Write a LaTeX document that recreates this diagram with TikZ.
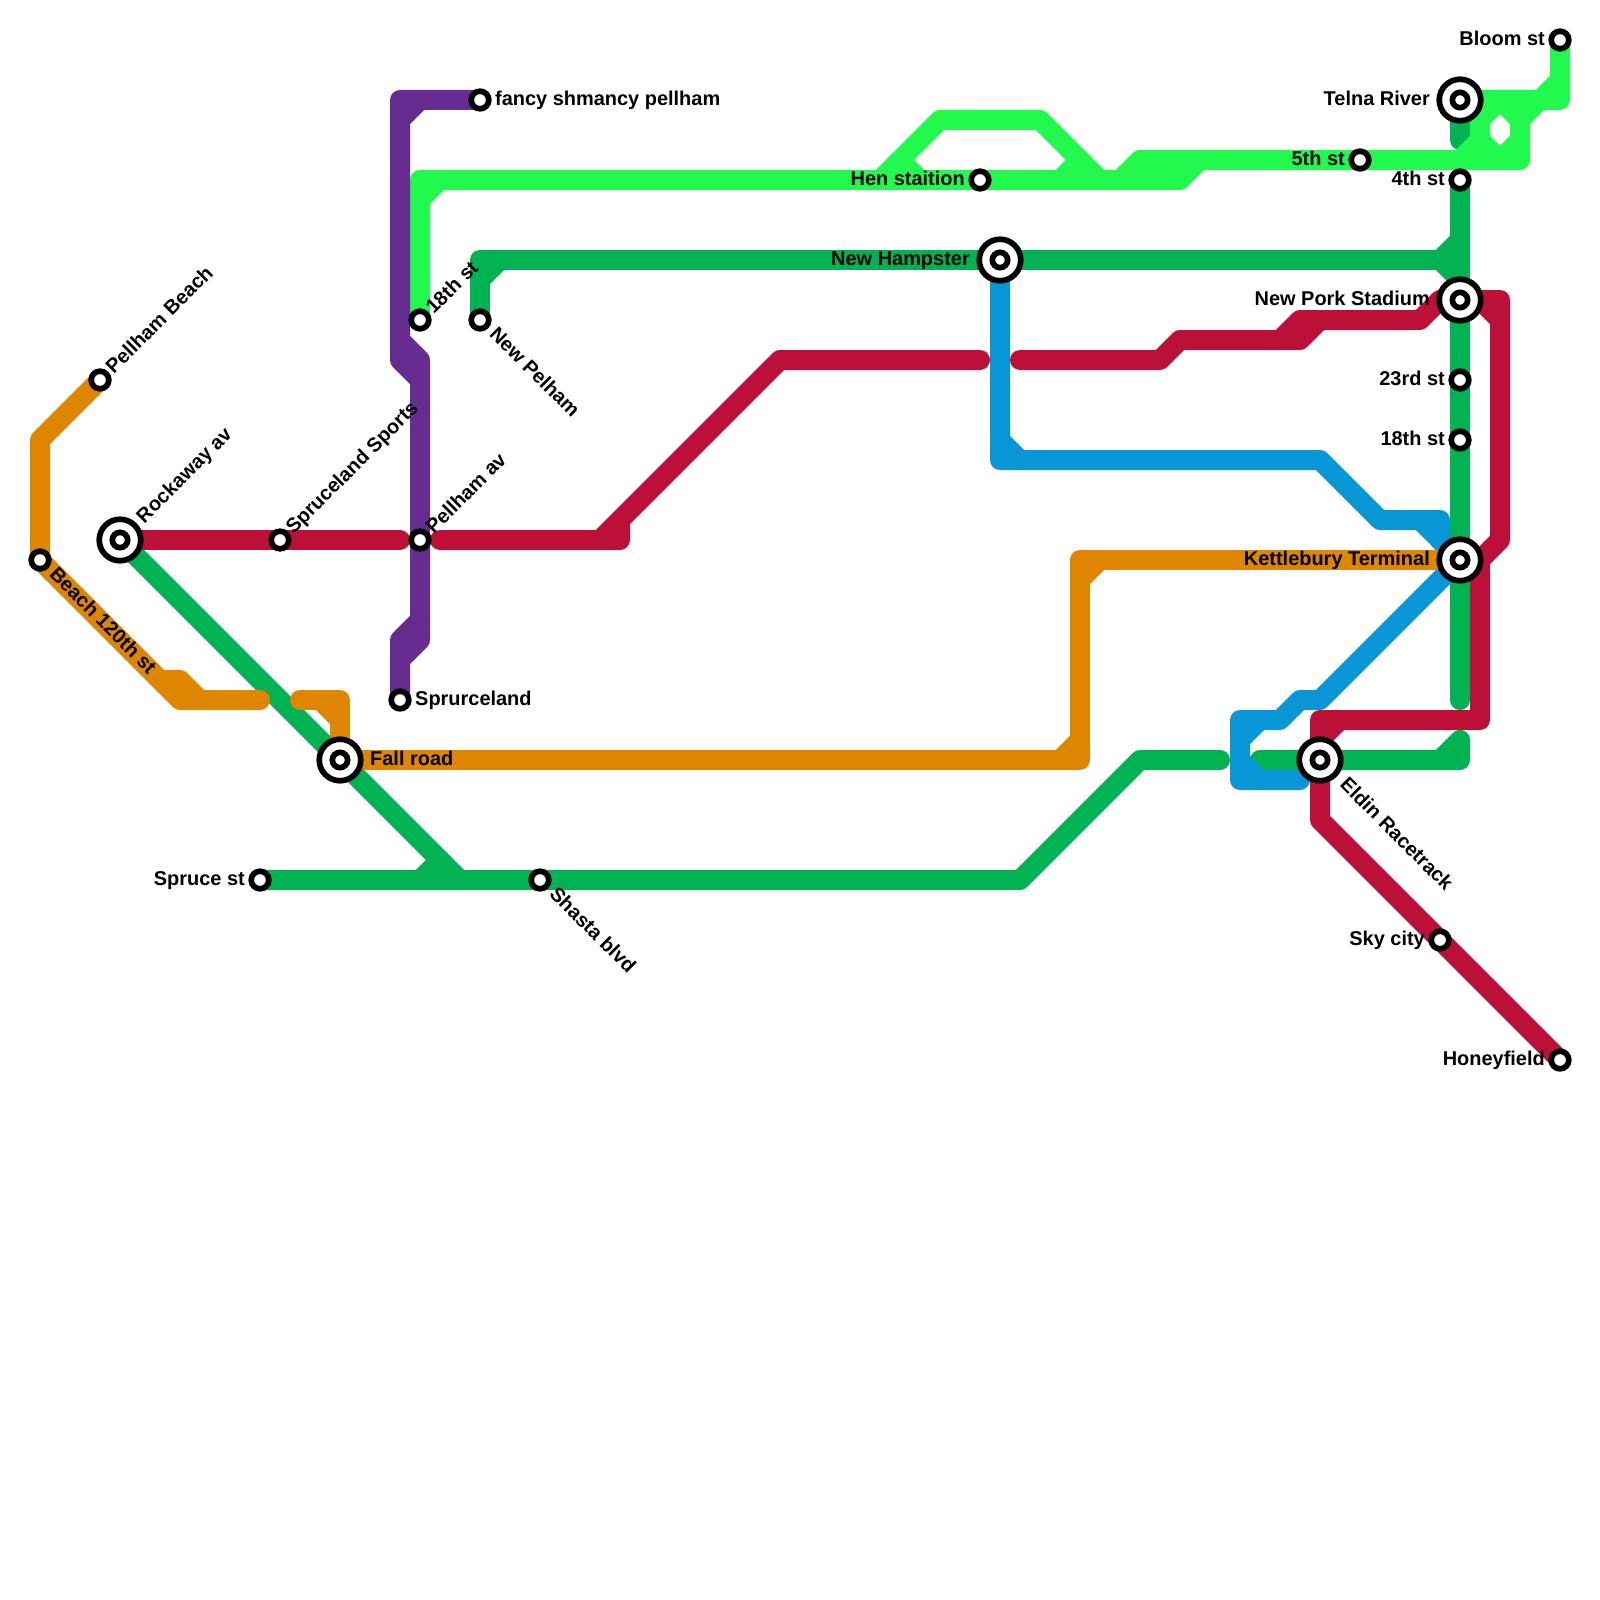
\documentclass[tikz,border=0pt]{standalone}
\usepackage{fontspec}
\setmainfont{Liberation Sans}
\definecolor{cOrange}{HTML}{DF8600}
\definecolor{cRed}{HTML}{BD1038}
\definecolor{cPurple}{HTML}{662C90}
\definecolor{cBlue}{HTML}{0896D7}
\definecolor{cGreen}{HTML}{00B251}
\definecolor{cMint}{HTML}{21FA4D}
\tikzset{
  metro/.style={line width=20pt,line join=round,line cap=round},
  stop/.style={circle,draw=black,fill=white,line width=5.7pt,minimum size=17.6pt,inner sep=0pt},
  hubout/.style={circle,draw=black,fill=white,line width=5.7pt,minimum size=41.5pt,inner sep=0pt},
  hubin/.style={circle,draw=black,fill=white,line width=5.7pt,minimum size=15.3pt,inner sep=0pt},
  lbl/.style={inner sep=0pt,font=\fontsize{19.95}{24}\selectfont\bfseries,text=black},
  lleft/.style={lbl,anchor=base east},
  lright/.style={lbl,anchor=base west},
  lup/.style={lbl,anchor=base west,rotate=45},
  ldown/.style={lbl,anchor=base west,rotate=-45},
}
\begin{document}
\begin{tikzpicture}[x=1pt,y=-1pt]
\useasboundingbox (0,0) rectangle (1600,1600);
\fill[white] (0,0) rectangle (1600,1600);
% station positions
\coordinate (Bloom) at (1560,40);
\coordinate (Telna) at (1460,100);
\coordinate (Fifth) at (1360,160);
\coordinate (Fourth) at (1460,180);
\coordinate (Hen) at (980,180);
\coordinate (Hampster) at (1000,260);
\coordinate (Pork) at (1460,300);
\coordinate (Twentythird) at (1460,380);
\coordinate (Eighteenth) at (1460,440);
\coordinate (Kettle) at (1460,560);
\coordinate (Eldin) at (1320,760);
\coordinate (Sky) at (1440,940);
\coordinate (Honey) at (1560,1060);
\coordinate (Fancy) at (480,100);
\coordinate (EighteenW) at (420,320);
\coordinate (NewPelham) at (480,320);
\coordinate (PBeach) at (100,380);
\coordinate (Rockaway) at (120,540);
\coordinate (SpruceSports) at (280,540);
\coordinate (PellhamAv) at (420,540);
\coordinate (Beach) at (40,560);
\coordinate (Sprurce) at (400,700);
\coordinate (Fall) at (340,760);
\coordinate (SpruceSt) at (260,880);
\coordinate (Shasta) at (540,880);
% dark green
\draw[metro,cGreen] (NewPelham) -- (480,260) -- (1440,260);
\draw[metro,cGreen] (480,280) -- (500,260);
\draw[metro,cGreen] (Telna) -- (1460,140);
\draw[metro,cGreen] (Fourth) -- (1460,700);
\draw[metro,cGreen] (1460,240) -- (1440,260) -- (1460,280);
\draw[metro,cGreen] (Rockaway) -- (460,880);
\draw[metro,cGreen] (SpruceSt) -- (1020,880) -- (1140,760) -- (1220,760);
\draw[metro,cGreen] (420,880) -- (440,860);
\draw[metro,cGreen] (1260,760) -- (1460,760) -- (1460,740) -- (1440,760);
% mint
\draw[metro,cMint] (EighteenW) -- (420,180) -- (1180,180) -- (1200,160) -- (1520,160) -- (1520,120) -- (1540,100) -- (1560,100) -- (Bloom);
\draw[metro,cMint] (420,200) -- (440,180);
\draw[metro,cMint] (880,180) -- (940,120) -- (1040,120) -- (1100,180);
\draw[metro,cMint] (900,160) -- (920,180);
\draw[metro,cMint] (1060,180) -- (1080,160);
\draw[metro,cMint] (1120,180) -- (1140,160) -- (1200,160);
\draw[metro,cMint] (Telna) -- (1540,100) -- (1560,80);
\draw[metro,cMint] (1480,100) -- (1480,140) -- (1460,160);
\draw[metro,cMint] (1480,120) -- (1500,100) -- (1520,120);
\draw[metro,cMint] (1480,140) -- (1500,160) -- (1520,140);
% purple
\draw[metro,cPurple] (Fancy) -- (400,100) -- (400,360) -- (420,380) -- (420,640) -- (400,660) -- (Sprurce);
\draw[metro,cPurple] (420,100) -- (400,120);
\draw[metro,cPurple] (400,340) -- (420,360) -- (420,380);
\draw[metro,cPurple] (420,620) -- (400,640) -- (400,660);
% blue
\draw[metro,cBlue] (Hampster) -- (1000,460) -- (1320,460) -- (1380,520) -- (1440,520) -- (1440,540);
\draw[metro,cBlue] (1000,440) -- (1020,460);
\draw[metro,cBlue] (1420,520) -- (Kettle);
\draw[metro,cBlue] (1440,540) -- (Kettle) -- (1320,700) -- (1300,700) -- (1280,720) -- (1240,720) -- (1240,780) -- (1300,780);
\draw[metro,cBlue] (1260,720) -- (1240,740);
\draw[metro,cBlue] (1240,760) -- (1260,780);
% orange
\draw[metro,cOrange] (PBeach) -- (40,440) -- (40,560) -- (180,700) -- (260,700);
\draw[metro,cOrange] (160,680) -- (180,680) -- (200,700);
\draw[metro,cOrange] (300,700) -- (340,700) -- (Fall) -- (1080,760) -- (1080,560) -- (Kettle);
\draw[metro,cOrange] (320,700) -- (340,720);
\draw[metro,cOrange] (1060,760) -- (1080,740);
\draw[metro,cOrange] (1080,580) -- (1100,560);
% red
\draw[metro,cRed] (Rockaway) -- (400,540);
\draw[metro,cRed] (440,540) -- (620,540) -- (620,520) -- (780,360) -- (980,360);
\draw[metro,cRed] (600,540) -- (620,520);
\draw[metro,cRed] (1020,360) -- (1160,360) -- (1180,340) -- (1300,340) -- (1320,320) -- (1420,320) -- (1440,300);
\draw[metro,cRed] (1280,340) -- (1300,320) -- (1320,320);
\draw[metro,cRed] (Pork) -- (1500,300) -- (1500,540) -- (1480,560) -- (1480,720) -- (1320,720) -- (Eldin) -- (1320,820) -- (Honey);
\draw[metro,cRed] (1480,300) -- (1500,320);
\draw[metro,cRed] (1480,560) -- (1470,570);
\draw[metro,cRed] (1340,720) -- (1320,740);
% stations
\foreach \s in {Bloom,Fifth,Fourth,Hen,Twentythird,Eighteenth,Sky,Honey,Fancy,EighteenW,NewPelham,PBeach,SpruceSports,PellhamAv,Beach,Sprurce,SpruceSt,Shasta}
  \node[stop] (st\s) at (\s) {};
\foreach \s in {Telna,Hampster,Pork,Kettle,Eldin,Rockaway,Fall}{
  \node[hubout] (hub\s) at (\s) {};
  \node[hubin] (core\s) at (\s) {};
}
% labels
\node[lleft] (tBloom) at (1545,45.4) {Bloom st};
\node[lleft] (tFifth) at (1345,165.4) {5th st};
\node[lleft] (tFourth) at (1445,185.4) {4th st};
\node[lleft] (tTwentythird) at (1445,385.4) {23rd st};
\node[lleft] (tEighteenth) at (1445,445.4) {18th st};
\node[lleft] (tHen) at (965,185.4) {Hen staition};
\node[lleft] (tSpruceSt) at (245,885.4) {Spruce st};
\node[lleft] (tSky) at (1425,945.4) {Sky city};
\node[lleft] (tHoney) at (1545,1065.4) {Honeyfield};
\node[lleft] (tTelna) at (1430,105.4) {Telna River};
\node[lleft] (tPork) at (1430,305.4) {New Pork Stadium};
\node[lleft] (tKettle) at (1430,565.4) {Kettlebury Terminal};
\node[lleft] (tHampster) at (970,265.4) {New Hampster};
\node[lright] (tFancy) at (495,105.4) {fancy shmancy pellham};
\node[lright] (tSprurce) at (415,705.4) {Sprurceland};
\node[lright] (tFall) at (370,765.4) {Fall road};
\node[lup] (tPBeach) at (113.7,375.0) {Pellham Beach};
\node[lup] (tRockaway) at (144.3,524.2) {Rockaway av};
\node[lup] (tSpruceSports) at (293.7,535.0) {Spruceland Sports};
\node[lup] (tPellhamAv) at (433.7,535.0) {Pellham av};
\node[lup] (tEighteenW) at (433.7,315.0) {18th st};
\node[ldown] (tBeach) at (48.4,575.4) {Beach 120th st};
\node[ldown] (tNewPelham) at (488.4,335.0) {New Pelham};
\node[ldown] (tShasta) at (548.4,895.0) {Shasta blvd};
\node[ldown] (tEldin) at (1339,785.6) {Eldin Racetrack};
\end{tikzpicture}
\end{document}
